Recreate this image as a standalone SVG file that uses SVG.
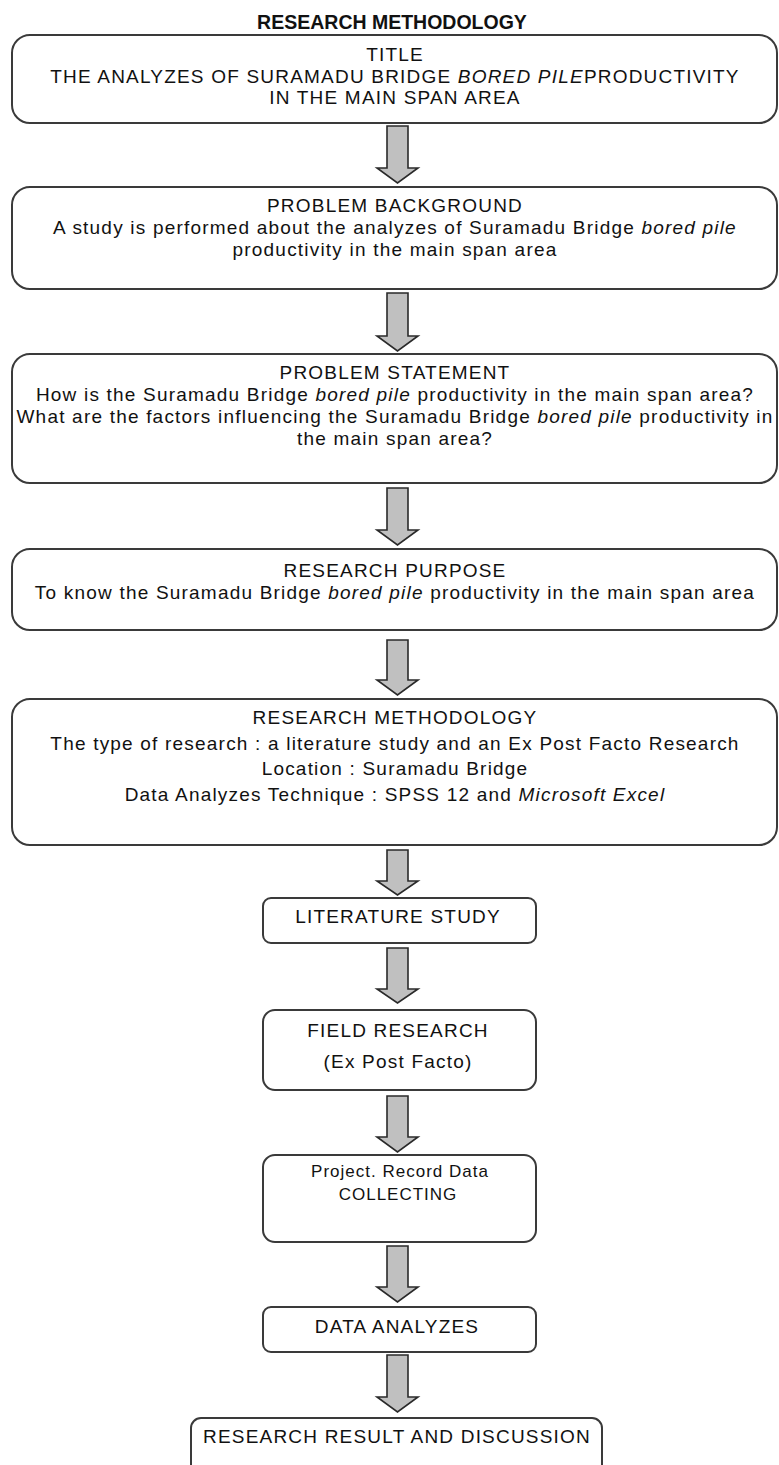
<svg xmlns="http://www.w3.org/2000/svg" width="779" height="1465" viewBox="0 0 779 1465">
<style>
.bx{fill:#fff;stroke:#3a3a3a;stroke-width:2}
.ar{fill:#c0c0c0;stroke:#2a2a2a;stroke-width:1.6;stroke-linejoin:miter}
text{font-family:"Liberation Sans",Arial,sans-serif;font-size:19px;letter-spacing:1.2px;fill:#111;text-anchor:middle}
.h{font-weight:bold;font-size:19.5px;letter-spacing:0}
.i{font-style:italic}
.sm{font-size:17px;letter-spacing:1px}
</style>
<rect width="779" height="1465" fill="#fff"/>
<text class="h" x="392" y="29">RESEARCH METHODOLOGY</text>

<g id="connectors">
<path class="ar" d="M387,126 H408 V168 H418 L397.5,183 L377,168 H387 Z"/>
<path class="ar" d="M387,293 H408 V336 H418 L397.5,351 L377,336 H387 Z"/>
<path class="ar" d="M387,488 H408 V530 H418 L397.5,545 L377,530 H387 Z"/>
<path class="ar" d="M387,640 H408 V680 H418 L397.5,695 L377,680 H387 Z"/>
<path class="ar" d="M387,850 H408 V881 H418 L397.5,895 L377,881 H387 Z"/>
<path class="ar" d="M387,948 H408 V989 H418 L397.5,1003 L377,989 H387 Z"/>
<path class="ar" d="M387,1096 H408 V1137 H418 L397.5,1152 L377,1137 H387 Z"/>
<path class="ar" d="M387,1246 H408 V1287 H418 L397.5,1302 L377,1287 H387 Z"/>
<path class="ar" d="M387,1355 H408 V1397 H418 L397.5,1412 L377,1397 H387 Z"/>
</g>

<g id="title">
<rect class="bx" x="12" y="35" width="765" height="88" rx="18"/>
<text x="395" y="61">TITLE</text>
<text x="395" y="82.5">THE ANALYZES OF SURAMADU BRIDGE <tspan class="i">BORED PILE</tspan>PRODUCTIVITY</text>
<text x="395" y="104">IN THE MAIN SPAN AREA</text>
</g>

<g id="background">
<rect class="bx" x="12" y="187" width="765" height="102" rx="18"/>
<text x="395" y="212">PROBLEM BACKGROUND</text>
<text x="395" y="234">A study is performed about the analyzes of Suramadu Bridge <tspan class="i">bored pile</tspan></text>
<text x="395" y="256">productivity in the main span area</text>
</g>

<g id="statement">
<rect class="bx" x="12" y="354" width="765" height="129" rx="18"/>
<text x="395" y="379">PROBLEM STATEMENT</text>
<text x="395" y="401">How is the Suramadu Bridge <tspan class="i">bored pile</tspan> productivity in the main span area?</text>
<text x="395" y="423">What are the factors influencing the Suramadu Bridge <tspan class="i">bored pile</tspan> productivity in</text>
<text x="395" y="445">the main span area?</text>
</g>

<g id="purpose">
<rect class="bx" x="12" y="549" width="765" height="81" rx="18"/>
<text x="395" y="577">RESEARCH PURPOSE</text>
<text x="395" y="599">To know the Suramadu Bridge <tspan class="i">bored pile</tspan> productivity in the main span area</text>
</g>

<g id="methodology">
<rect class="bx" x="12" y="699" width="765" height="146" rx="18"/>
<text x="395" y="724">RESEARCH METHODOLOGY</text>
<text x="395" y="750">The type of research : a literature study and an Ex Post Facto Research</text>
<text x="395" y="775">Location : Suramadu Bridge</text>
<text x="395" y="801">Data Analyzes Technique : SPSS 12 and <tspan class="i">Microsoft Excel</tspan></text>
</g>

<g id="literature">
<rect class="bx" x="263" y="898" width="273" height="45" rx="8"/>
<text x="398" y="923">LITERATURE STUDY</text>
</g>

<g id="field">
<rect class="bx" x="263" y="1010" width="273" height="80" rx="12"/>
<text x="398" y="1037">FIELD RESEARCH</text>
<text x="398" y="1068">(Ex Post Facto)</text>
</g>

<g id="collecting">
<rect class="bx" x="263" y="1155" width="273" height="87" rx="12"/>
<text class="sm" x="400" y="1177">Project. Record Data</text>
<text class="sm" x="398" y="1200">COLLECTING</text>
</g>

<g id="analyzes">
<rect class="bx" x="263" y="1307" width="273" height="45" rx="8"/>
<text x="397" y="1333">DATA ANALYZES</text>
</g>

<g id="result">
<rect class="bx" x="191" y="1418" width="411" height="70" rx="10"/>
<text x="397" y="1443">RESEARCH RESULT AND DISCUSSION</text>
</g>
</svg>
